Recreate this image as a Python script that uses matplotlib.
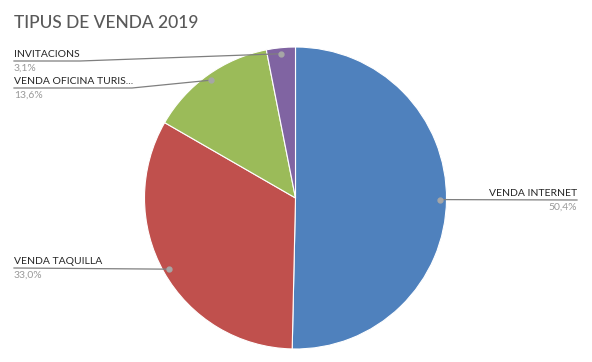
import matplotlib.pyplot as plt
import numpy as np

categories = ['VENDA INTERNET', 'VENDA TAQUILLA', 'VENDA OFICINA TURIS...', 'INVITACIONS']
values = [50.4, 33.0, 13.6, 3.1]
pct_labels = ['50,4%', '33,0%', '13,6%', '3,1%']
colors = ['#4F81BD', '#C0504D', '#9BBB59', '#8064A2']

plt.rcParams['font.family'] = ['Lato', 'DejaVu Sans']

W, H = 592, 362
fig = plt.figure(figsize=(W / 100, H / 100), dpi=100)


def fx(x):
    return x / W


def fy(y):
    return 1 - y / H


# pie placement (pixels, top-left origin)
cx, cy, r = 295.5, 198, 151
ax = fig.add_axes([fx(cx - r), fy(cy + r), 2 * r / W, 2 * r / H])
wedges, _ = ax.pie(values, colors=colors, startangle=90, counterclock=False,
                   radius=1, wedgeprops=dict(edgecolor='white', linewidth=0.8))
ax.set_xlim(-1, 1)
ax.set_ylim(-1, 1)

fig.text(fx(14), fy(23), 'TIPUS DE VENDA 2019', fontsize=12.5, color='#595959',
         ha='left', va='center', fontweight='medium')

# label layout: line y, text x, alignment, elbow x
layout = [
    (200, 577, 'right', None),
    (268, 14, 'left', None),
    (88, 14, 'left', 132),
    (61, 14, 'left', 80),
]

line_col = '#7F7F7F'
for w, cat, pct, (ly, tx, ha, ex) in zip(wedges, categories, pct_labels, layout):
    mid = np.deg2rad((w.theta1 + w.theta2) / 2)
    dx, dy = 0.96 * np.cos(mid), 0.96 * np.sin(mid)
    px, py = fig.transFigure.inverted().transform(ax.transData.transform((dx, dy)))
    xs, ys = [px], [py]
    if ex is not None:
        xs.append(fx(ex))
        ys.append(fy(ly))
    xs.append(fx(tx))
    ys.append(fy(ly))
    fig.add_artist(plt.Line2D(xs, ys, color=line_col, lw=0.9))
    fig.add_artist(plt.Line2D([px], [py], marker='o', ms=3.5, color='#A6A6A6',
                              lw=0))
    fig.text(fx(tx), fy(ly - 2), cat, fontsize=7.5, color='#262626',
             ha=ha, va='bottom')
    fig.text(fx(tx), fy(ly + 3), pct, fontsize=7.5, color='#999999',
             ha=ha, va='top')

fig.savefig('out.png', dpi=100)
